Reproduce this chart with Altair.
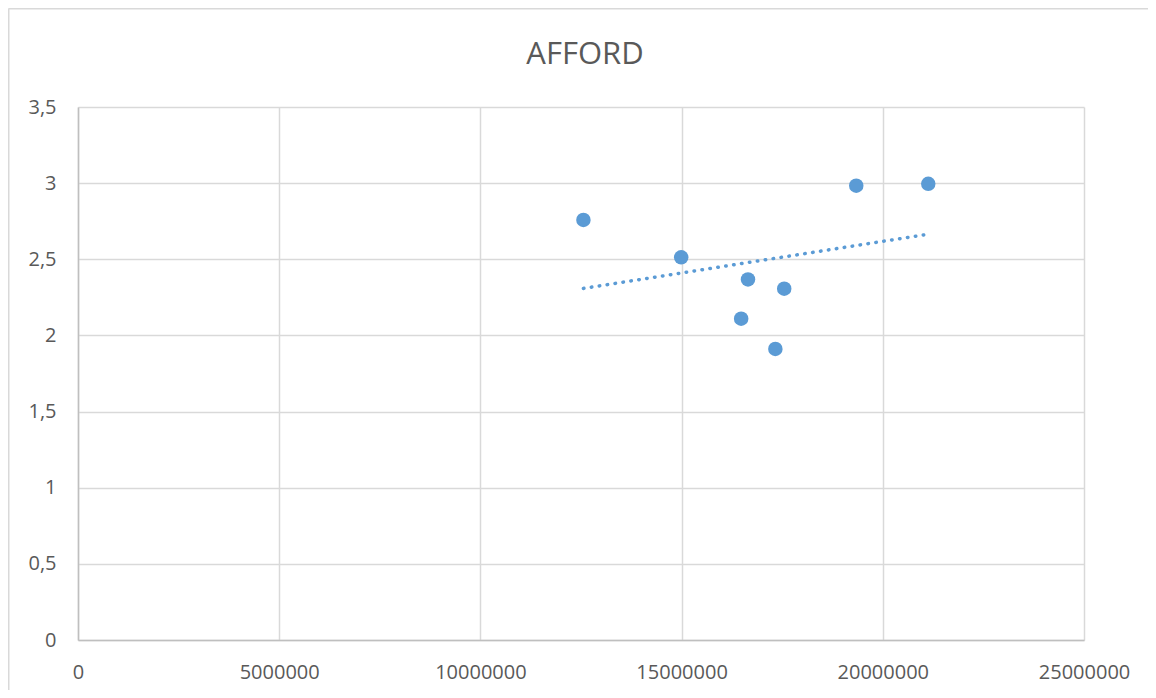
import altair as alt
import pandas as pd

# Data
x_values = [12560000, 14990000, 16650000, 16480000, 17550000, 17330000, 19340000, 21130000]
y_values = [2.758, 2.513, 2.368, 2.110, 2.307, 1.911, 2.983, 2.996]
x_ticks = [0, 5000000, 10000000, 15000000, 20000000, 25000000]
y_ticks = [0, 0.5, 1, 1.5, 2, 2.5, 3, 3.5]
title_text = "AFFORD"

df = pd.DataFrame({"x": x_values, "y": y_values})

BLUE = "#5b9bd5"
GRID = "#d9d9d9"
TEXT = "#595959"
FONT = "Open Sans"

x_enc = alt.X("x:Q", scale=alt.Scale(domain=[0, 25000000], nice=False),
              axis=alt.Axis(values=x_ticks, format="d", title=None, labelFlush=False))
y_enc = alt.Y("y:Q", scale=alt.Scale(domain=[0, 3.5], nice=False),
              axis=alt.Axis(values=y_ticks, title=None, labelFlush=False,
                            labelExpr="replace(toString(datum.value), '.', ',')"))

base = alt.Chart(df)

points = base.mark_circle(size=210, opacity=1, color=BLUE).encode(x=x_enc, y=y_enc)

trend = base.transform_regression("x", "y").mark_line(
    color=BLUE, strokeWidth=3.5, strokeDash=[0.5, 7.5], strokeCap="round"
).encode(x="x:Q", y="y:Q")

border_left = alt.Chart(alt.Data(values=[{}])).mark_rule(color=GRID, strokeWidth=2).encode(
    x=alt.value(-69.5), y=alt.value(-98.5), y2=alt.value(700)
)
border_top = alt.Chart(alt.Data(values=[{}])).mark_rule(color=GRID, strokeWidth=2).encode(
    x=alt.value(-69.5), x2=alt.value(1200), y=alt.value(-98.5)
)

chart = alt.layer(border_left, border_top, trend, points).properties(
    width=1006,
    height=533,
    title=alt.TitleParams(title_text, fontSize=31, font=FONT, fontWeight="normal",
                          color=TEXT, anchor="middle", baseline="alphabetic",
                          offset=-87.5, dx=4),
    autosize=alt.AutoSizeParams(type="none"),
    padding={"left": 70, "top": 99, "right": 64, "bottom": 50},
).configure_view(
    stroke=None
).configure_axis(
    grid=True, gridColor=GRID, gridWidth=1.5,
    domainColor="#bfbfbf", domainWidth=1.5,
    ticks=False, labelFont=FONT, labelFontSize=20, labelColor=TEXT,
).configure_axisX(
    labelPadding=22, domain=True
).configure_axisY(
    labelPadding=22, domain=True
)

chart.save("out.html", embed_options={"renderer": "svg", "actions": False})
